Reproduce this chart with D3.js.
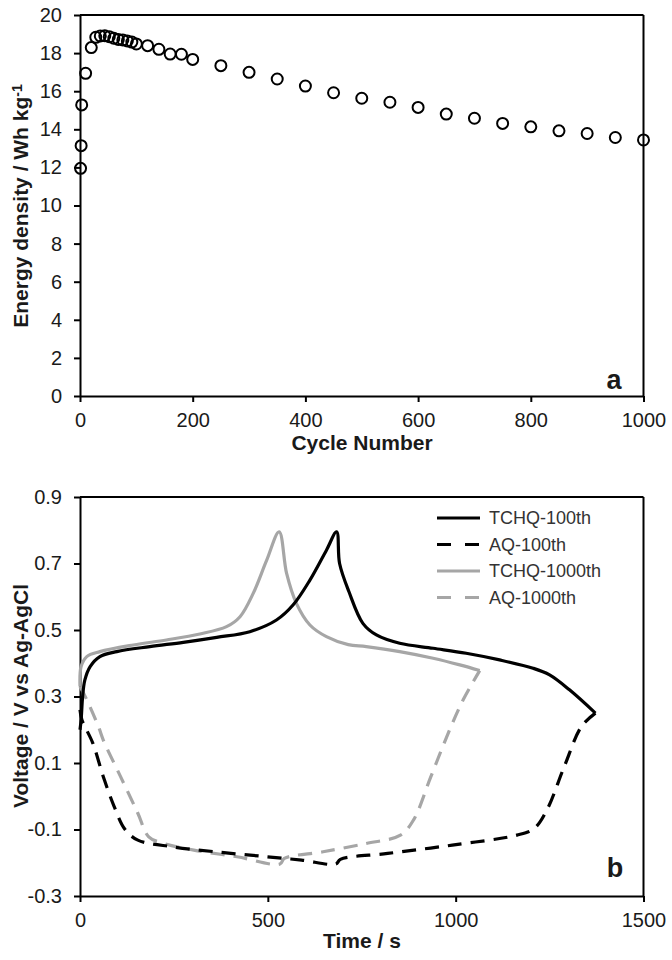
<!DOCTYPE html>
<html>
<head>
<meta charset="utf-8">
<script src="https://cdn.jsdelivr.net/npm/d3@7/dist/d3.min.js"></script>
<style>
  html, body { margin: 0; padding: 0; background: #fff; }
  svg { display: block; font-family: "Liberation Sans", Arial, sans-serif; }
</style>
</head>
<body>
<svg id="chart" width="672" height="960"></svg>
<script>
// ---------- Panel a data ----------
const cycles = [1,2,3,10,20,28,36,44,52,60,68,76,84,92,100,120,140,160,180,200,250,300,350,400,450,500,550,600,650,700,750,800,850,900,950,1000];
const energyDensity = [11.95,13.14,15.28,16.94,18.29,18.83,18.90,18.91,18.86,18.78,18.72,18.69,18.64,18.58,18.48,18.39,18.20,17.95,17.94,17.67,17.34,16.99,16.64,16.27,15.92,15.63,15.42,15.15,14.80,14.58,14.31,14.13,13.92,13.78,13.57,13.44];
const aXTicks = [0,200,400,600,800,1000];
const aYTicks = [0,2,4,6,8,10,12,14,16,18,20];

// ---------- Panel b data ([time s, voltage V]) ----------
const tchq100 = [[0,0.20],[3,0.23],[7,0.30],[13,0.35],[27,0.39],[53,0.42],[98,0.435],[186,0.45],[275,0.463],[364,0.478],[452,0.495],[523,0.53],[567,0.575],[612,0.65],[656,0.74],[683,0.795],[691,0.70],[716,0.615],[753,0.52],[789,0.485],[851,0.46],[940,0.445],[1028,0.43],[1117,0.41],[1206,0.385],[1250,0.365],[1303,0.32],[1372,0.25]];
const aq100 = [[0,0.26],[5,0.23],[34,0.16],[62,0.059],[91,-0.031],[120,-0.10],[154,-0.132],[246,-0.152],[360,-0.167],[498,-0.182],[590,-0.192],[681,-0.204],[693,-0.19],[819,-0.172],[991,-0.147],[1163,-0.117],[1209,-0.097],[1243,-0.041],[1289,0.089],[1335,0.21],[1372,0.25]];
const tchq1000 = [[0,0.33],[3,0.39],[18,0.42],[53,0.435],[142,0.455],[230,0.47],[319,0.488],[390,0.51],[426,0.54],[461,0.61],[497,0.71],[530,0.795],[550,0.67],[576,0.58],[612,0.515],[656,0.48],[714,0.456],[762,0.45],[851,0.435],[940,0.415],[1011,0.395],[1064,0.378]];
const aq1000 = [[0,0.33],[16,0.295],[49,0.21],[62,0.169],[108,0.059],[154,-0.051],[183,-0.122],[223,-0.142],[303,-0.162],[418,-0.182],[532,-0.204],[544,-0.187],[647,-0.167],[762,-0.142],[853,-0.117],[888,-0.071],[934,0.059],[980,0.189],[1020,0.29],[1064,0.378]];
const seriesNames = ["TCHQ-100th","AQ-100th","TCHQ-1000th","AQ-1000th"];
const bXTicks = [0,500,1000,1500];
const bYTicks = [-0.3,-0.1,0.1,0.3,0.5,0.7,0.9];

const svg = d3.select("#chart");
const BLACK = "#000", GRAY = "#a6a6a6";

function styleAxis(g) {
  g.selectAll("path.domain").attr("stroke", "#000").attr("stroke-width", 2);
  g.selectAll(".tick line").attr("stroke", "#000").attr("stroke-width", 2);
  g.selectAll(".tick text").attr("fill", "#1a1a1a").style("font-size", "20px")
    .style("font-family", '"Liberation Sans", Arial, sans-serif');
}
const minusFmt = f => (d => f(d).replace("\u2212", "-"));

// ================= Panel a =================
const xa = d3.scaleLinear().domain([0,1000]).range([80,643.5]);
const ya = d3.scaleLinear().domain([0,20]).range([396,15]);

// frame (top, right)
svg.append("line").attr("x1",xa(0)).attr("x2",xa(1000)).attr("y1",ya(20)).attr("y2",ya(20)).attr("stroke","#000").attr("stroke-width",2);
svg.append("line").attr("x1",xa(1000)).attr("x2",xa(1000)).attr("y1",ya(20)).attr("y2",ya(0)).attr("stroke","#000").attr("stroke-width",2);

svg.append("g").attr("transform",`translate(0,${ya(0)})`)
  .call(d3.axisBottom(xa).tickValues(aXTicks).tickSize(6).tickPadding(11).tickSizeOuter(0).tickFormat(d3.format("d")))
  .call(styleAxis);
svg.append("g").attr("transform",`translate(${xa(0)},0)`)
  .call(d3.axisLeft(ya).tickValues(aYTicks).tickSize(6).tickPadding(12).tickSizeOuter(0).tickFormat(d3.format("d")))
  .call(styleAxis);

svg.append("g").selectAll("circle").data(cycles.map((c,i)=>[c,energyDensity[i]])).join("circle")
  .attr("cx", d=>xa(d[0])).attr("cy", d=>ya(d[1])).attr("r",5.5)
  .attr("fill","none").attr("stroke","#000").attr("stroke-width",2);

svg.append("text").attr("x", 362).attr("y", 450).attr("text-anchor","middle")
  .style("font-weight","bold").style("font-size","21px").attr("fill","#1a1a1a").text("Cycle Number");
const yta = svg.append("text").attr("transform","translate(28,206) rotate(-90)").attr("text-anchor","middle")
  .style("font-weight","bold").style("font-size","21px").attr("fill","#1a1a1a");
yta.append("tspan").text("Energy density / Wh kg");
yta.append("tspan").attr("dy","-0.45em").style("font-size","14px").text("-1");
svg.append("text").attr("x",614).attr("y",389).attr("text-anchor","middle")
  .style("font-weight","bold").style("font-size","27px").attr("fill","#1a1a1a").text("a");

// ================= Panel b =================
const xb = d3.scaleLinear().domain([0,1500]).range([80,643.5]);
const yb = d3.scaleLinear().domain([-0.3,0.9]).range([896,497]);

svg.append("line").attr("x1",xb(0)).attr("x2",xb(1500)).attr("y1",yb(0.9)).attr("y2",yb(0.9)).attr("stroke","#000").attr("stroke-width",2);
svg.append("line").attr("x1",xb(1500)).attr("x2",xb(1500)).attr("y1",yb(0.9)).attr("y2",yb(-0.3)).attr("stroke","#000").attr("stroke-width",2);

svg.append("g").attr("transform",`translate(0,${yb(-0.3)})`)
  .call(d3.axisBottom(xb).tickValues(bXTicks).tickSize(6).tickPadding(11).tickSizeOuter(0).tickFormat(d3.format("d")))
  .call(styleAxis);
svg.append("g").attr("transform",`translate(${xb(0)},0)`)
  .call(d3.axisLeft(yb).tickValues(bYTicks).tickSize(6).tickPadding(12).tickSizeOuter(0).tickFormat(minusFmt(d3.format(".1f"))))
  .call(styleAxis);

const line = d3.line().x(d=>xb(d[0])).y(d=>yb(d[1])).curve(d3.curveCatmullRom.alpha(0.5));
const series = [
  {name: seriesNames[0], data: tchq100, color: BLACK, dash: null},
  {name: seriesNames[1], data: aq100, color: BLACK, dash: "14,9"},
  {name: seriesNames[2], data: tchq1000, color: GRAY, dash: null},
  {name: seriesNames[3], data: aq1000, color: GRAY, dash: "14,9"}
];
const drawOrder = [3,2,1,0];
drawOrder.forEach(i => {
  const s = series[i];
  svg.append("path").datum(s.data).attr("d", line).attr("fill","none")
    .attr("stroke", s.color).attr("stroke-width", 3.2)
    .attr("stroke-dasharray", s.dash).attr("stroke-linejoin","round");
});

// legend
const lg = svg.append("g");
series.forEach((s,i) => {
  const y = 518 + i*26.5;
  lg.append("line").attr("x1",437).attr("x2",480).attr("y1",y).attr("y2",y)
    .attr("stroke", s.color).attr("stroke-width",3.2).attr("stroke-dasharray", s.dash ? "14,14" : null);
  lg.append("text").attr("x",489).attr("y",y).attr("dy","0.36em")
    .style("font-size","18px").attr("fill","#333").text(s.name);
});

svg.append("text").attr("x", 362).attr("y", 948).attr("text-anchor","middle")
  .style("font-weight","bold").style("font-size","21px").attr("fill","#1a1a1a").text("Time / s");
svg.append("text").attr("transform","translate(28,696) rotate(-90)").attr("text-anchor","middle")
  .style("font-weight","bold").style("font-size","21px").attr("fill","#1a1a1a").text("Voltage / V vs Ag-AgCl");
svg.append("text").attr("x",615).attr("y",877).attr("text-anchor","middle")
  .style("font-weight","bold").style("font-size","27px").attr("fill","#1a1a1a").text("b");
</script>
</body>
</html>
